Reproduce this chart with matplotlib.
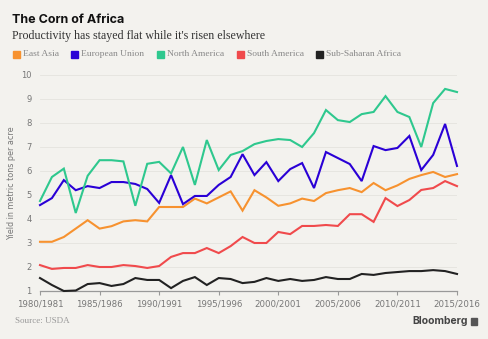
import numpy as np
import matplotlib
matplotlib.use("Agg")
import matplotlib.pyplot as plt
from matplotlib.patches import Rectangle

# marketing years 1980/1981 .. 2015/2016
years = list(range(1980, 2016))
tick_years = [1980, 1985, 1990, 1995, 2000, 2005, 2010, 2015]
tick_labels = ["%d/%d" % (y, y + 1) for y in tick_years]

east_asia = [3.05, 3.05, 3.25, 3.6, 3.95, 3.6, 3.7, 3.9, 3.95, 3.9,
             4.5, 4.5, 4.5, 4.85, 4.65, 4.9, 5.15, 4.35, 5.2, 4.9,
             4.55, 4.65, 4.85, 4.75, 5.08, 5.2, 5.29, 5.12, 5.5, 5.2,
             5.4, 5.67, 5.83, 5.96, 5.75, 5.87]
european_union = [4.58, 4.87, 5.62, 5.2, 5.37, 5.29, 5.54, 5.54, 5.46, 5.25,
                  4.67, 5.83, 4.62, 4.96, 4.96, 5.42, 5.75, 6.7, 5.83, 6.37,
                  5.58, 6.08, 6.33, 5.29, 6.79, 6.54, 6.29, 5.58, 7.04, 6.87,
                  6.96, 7.46, 6.04, 6.67, 7.96, 6.21]
north_america = [4.75, 5.75, 6.1, 4.25, 5.8, 6.45, 6.45, 6.4, 4.55, 6.3,
                 6.38, 5.9, 7.0, 5.42, 7.29, 6.04, 6.67, 6.83, 7.12, 7.25,
                 7.33, 7.29, 7.0, 7.58, 8.54, 8.12, 8.04, 8.37, 8.46, 9.12,
                 8.46, 8.25, 7.0, 8.83, 9.42, 9.29]
south_america = [2.08, 1.92, 1.96, 1.96, 2.08, 2.0, 2.0, 2.08, 2.04, 1.96,
                 2.04, 2.42, 2.58, 2.58, 2.79, 2.58, 2.87, 3.25, 3.0, 3.0,
                 3.46, 3.37, 3.71, 3.71, 3.75, 3.71, 4.2, 4.2, 3.88, 4.87,
                 4.54, 4.79, 5.21, 5.29, 5.58, 5.37]
sub_saharan = [1.54, 1.25, 1.0, 1.02, 1.29, 1.33, 1.21, 1.29, 1.54, 1.46,
               1.46, 1.12, 1.42, 1.58, 1.25, 1.54, 1.5, 1.33, 1.38, 1.54,
               1.42, 1.5, 1.42, 1.46, 1.58, 1.5, 1.5, 1.71, 1.67, 1.75,
               1.79, 1.83, 1.83, 1.87, 1.83, 1.71]

names = ["East Asia", "European Union", "North America", "South America", "Sub-Saharan Africa"]
series = [east_asia, european_union, north_america, south_america, sub_saharan]
colors = ["#f7922f", "#2a00d6", "#2ec88e", "#f04a4c", "#222222"]

BG = "#f3f2ee"
W, H = 488, 339

fig = plt.figure(figsize=(W / 100, H / 100), dpi=100, facecolor=BG)
ax = fig.add_axes([40 / W, (H - 291) / H, (457 - 40) / W, (291 - 75) / H])
ax.set_facecolor(BG)

for vals, c in zip(series, colors):
    ax.plot(years, vals, color=c, lw=1.5, solid_joinstyle="miter", clip_on=False, zorder=3)

ax.set_xlim(1980, 2015)
ax.set_ylim(1, 10)
ax.set_yticks(range(1, 11))
ax.set_xticks(tick_years)
ax.set_xticklabels(tick_labels)
ax.grid(axis="y", color="#e4e3de", lw=0.6)
ax.tick_params(axis="y", length=0, pad=6, labelsize=6, labelcolor="#777777")
ax.tick_params(axis="x", length=3, width=0.8, color="#999999", pad=3,
               labelsize=6.2, labelcolor="#777777")
for s in ["top", "right", "left"]:
    ax.spines[s].set_visible(False)
ax.spines["bottom"].set_color("#999999")
ax.spines["bottom"].set_linewidth(0.9)
ax.set_ylabel("Yield in metric tons per acre", fontsize=5.8, color="#777777", labelpad=4)

# headline block
fig.text(12 / W, 1 - 20 / H, "The Corn of Africa", fontsize=9, fontweight="bold",
         family="Inter", color="#111111", va="center")
fig.text(12 / W, 1 - 36 / H, "Productivity has stayed flat while it's risen elsewhere",
         fontsize=8.6, family="Liberation Serif", color="#333333", va="center")

# legend row
legend_x = [13, 71, 157, 237, 316]
for x, name, c in zip(legend_x, names, colors):
    fig.patches.append(Rectangle((x / W, 1 - 58 / H), 7 / W, 7 / H,
                                 transform=fig.transFigure, color=c))
    fig.text((x + 10) / W, 1 - 54.5 / H, name, fontsize=6.8, family="Liberation Serif",
             color="#888888", va="center")

fig.text(15 / W, 1 - 321 / H, "Source: USDA", fontsize=6.5, family="Liberation Serif",
         color="#999999", va="center")
fig.text(468 / W, 1 - 321 / H, "Bloomberg", fontsize=7.5, fontweight="bold",
         family="Inter", color="#444444", va="center", ha="right")
fig.patches.append(Rectangle((471 / W, 1 - 324.5 / H), 6 / W, 7 / H,
                             transform=fig.transFigure, color="#555555"))

fig.savefig("out.png", dpi=100, facecolor=BG)
